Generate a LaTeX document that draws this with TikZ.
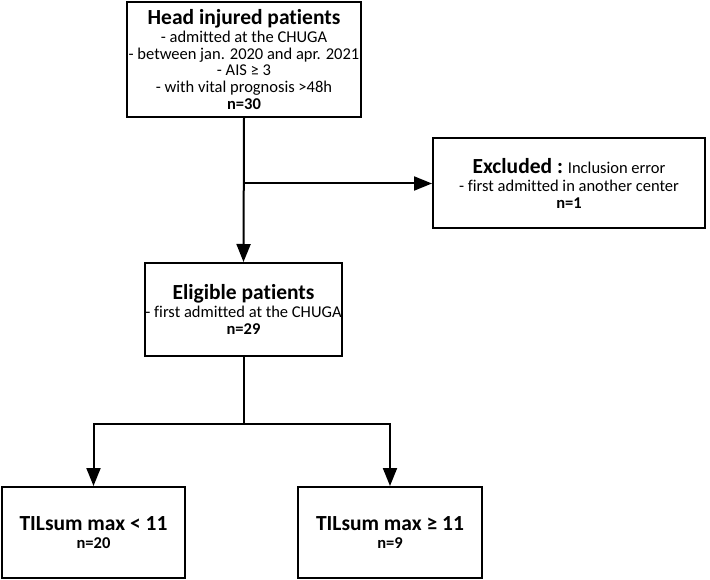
\documentclass[tikz,border=0pt]{standalone}
\usepackage{fontspec}
\setmainfont[Ligatures={NoCommon}]{Carlito}
\usetikzlibrary{arrows.meta}
\begin{document}
\begin{tikzpicture}[x=1pt,y=-1pt,
  box/.style={draw=black,line width=2pt,fill=white,align=center,inner sep=0pt,font=\fontsize{16.5}{16.7}\selectfont},
  conn/.style={draw=black,line width=2pt},
  arr/.style={conn,-{Triangle[length=18pt,width=14pt]}}]
\useasboundingbox[fill=white] (0,0) rectangle (710,580);
\newcommand{\ttlA}[1]{{\fontsize{21.5}{20}\selectfont\bfseries #1}}
\newcommand{\nnum}[1]{{\bfseries #1}}
\node[box,minimum width=234pt,minimum height=115pt] (top) at (244,59.5)
  {\ttlA{Head injured patients}\\[1pt]
   - admitted at the CHUGA\\
   - between jan. 2020 and apr. 2021\\
   - AIS ≥ 3\\
   - with vital prognosis >48h\\
   \nnum{n=30}};
\node[box,minimum width=272pt,minimum height=90pt] (excl) at (569,183.5)
  {\ttlA{Excluded :} Inclusion error\\[1pt]
   - first admitted in another center\\
   \nnum{n=1}};
\node[box,minimum width=193pt,minimum height=93pt] (elig) at (243.5,309.5)
  {\ttlA{Eligible patients}\\[1pt]
   - first admitted at the CHUGA\\
   \nnum{n=29}};
\node[box,minimum width=183pt,minimum height=91pt] (low) at (93.5,532.5)
  {\ttlA{TILsum max < 11}\\[2pt]
   \nnum{n=20}};
\node[box,minimum width=184pt,minimum height=91pt] (high) at (390,532.5)
  {\ttlA{TILsum max ≥ 11}\\[2pt]
   \nnum{n=9}};
\coordinate (br) at (top.south |- excl.west);
\draw[arr] (top.south) -- (elig.north);
\draw[arr] (br) -- (excl.west);
\draw[conn] (elig.south) -- (elig.south |- 0,424) coordinate (sp);
\draw[arr] (sp) -| (low.north);
\draw[arr] (sp) -| (high.north);
\end{tikzpicture}
\end{document}
